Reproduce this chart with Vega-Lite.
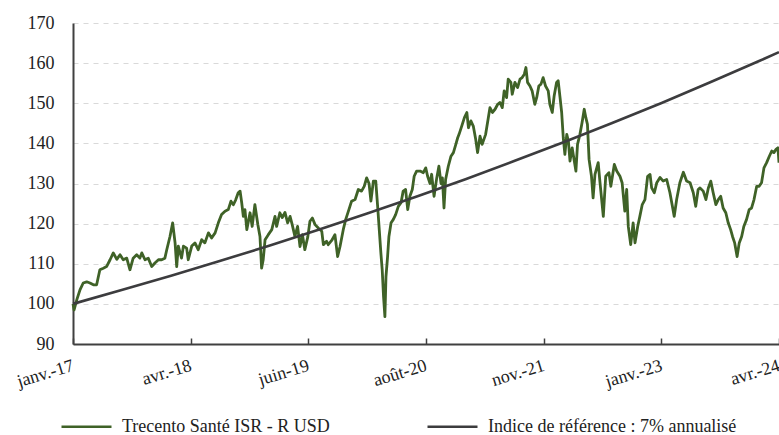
{
  "$schema": "https://vega.github.io/schema/vega-lite/v6.json",
  "width": 706,
  "height": 321,
  "autosize": {"type": "none"},
  "padding": {"left": 73, "top": 23, "right": 0, "bottom": 91},
  "background": "white",
  "datasets": {
    "fund": [
      {"date": "2017-01-20", "value": 100},
      {"date": "2017-01-24", "value": 98.5},
      {"date": "2017-02-03", "value": 101},
      {"date": "2017-02-15", "value": 103.5},
      {"date": "2017-02-27", "value": 105.2},
      {"date": "2017-03-12", "value": 105.5},
      {"date": "2017-03-24", "value": 105.2},
      {"date": "2017-04-06", "value": 104.75},
      {"date": "2017-04-18", "value": 104.75},
      {"date": "2017-04-30", "value": 108.5},
      {"date": "2017-05-13", "value": 108.9},
      {"date": "2017-05-25", "value": 109.3},
      {"date": "2017-06-07", "value": 111},
      {"date": "2017-06-19", "value": 112.7},
      {"date": "2017-07-02", "value": 111.1},
      {"date": "2017-07-14", "value": 112.25},
      {"date": "2017-07-26", "value": 111},
      {"date": "2017-08-08", "value": 111.4},
      {"date": "2017-08-20", "value": 108.5},
      {"date": "2017-09-01", "value": 111.4},
      {"date": "2017-09-14", "value": 112.25},
      {"date": "2017-09-26", "value": 111.4},
      {"date": "2017-10-03", "value": 112.7},
      {"date": "2017-10-15", "value": 111},
      {"date": "2017-10-27", "value": 111.4},
      {"date": "2017-11-09", "value": 109.3},
      {"date": "2017-11-21", "value": 110.2},
      {"date": "2017-12-04", "value": 111},
      {"date": "2017-12-16", "value": 111},
      {"date": "2017-12-28", "value": 111.4},
      {"date": "2018-01-04", "value": 113.5},
      {"date": "2018-01-16", "value": 116.8},
      {"date": "2018-01-26", "value": 120.2},
      {"date": "2018-02-04", "value": 115.2},
      {"date": "2018-02-10", "value": 109.3},
      {"date": "2018-02-16", "value": 114.4},
      {"date": "2018-02-28", "value": 111.4},
      {"date": "2018-03-07", "value": 114.4},
      {"date": "2018-03-19", "value": 113.9},
      {"date": "2018-03-25", "value": 111},
      {"date": "2018-04-07", "value": 114.4},
      {"date": "2018-04-19", "value": 115.2},
      {"date": "2018-05-01", "value": 113.5},
      {"date": "2018-05-14", "value": 116},
      {"date": "2018-05-26", "value": 115.2},
      {"date": "2018-06-08", "value": 117.7},
      {"date": "2018-06-20", "value": 116.4},
      {"date": "2018-07-03", "value": 117.7},
      {"date": "2018-07-15", "value": 120.2},
      {"date": "2018-07-27", "value": 122.25},
      {"date": "2018-08-09", "value": 123.1},
      {"date": "2018-08-21", "value": 123.5},
      {"date": "2018-08-31", "value": 125.6},
      {"date": "2018-09-09", "value": 124.7},
      {"date": "2018-09-18", "value": 126},
      {"date": "2018-09-27", "value": 127.7},
      {"date": "2018-10-04", "value": 128.1},
      {"date": "2018-10-10", "value": 125.2},
      {"date": "2018-10-16", "value": 121.8},
      {"date": "2018-10-22", "value": 123.5},
      {"date": "2018-10-29", "value": 118.5},
      {"date": "2018-11-10", "value": 122.7},
      {"date": "2018-11-18", "value": 119.3},
      {"date": "2018-11-28", "value": 124.75},
      {"date": "2018-12-09", "value": 119.8},
      {"date": "2018-12-17", "value": 116.8},
      {"date": "2018-12-23", "value": 108.9},
      {"date": "2018-12-29", "value": 111},
      {"date": "2019-01-05", "value": 116},
      {"date": "2019-01-17", "value": 117.25},
      {"date": "2019-01-30", "value": 118.5},
      {"date": "2019-02-11", "value": 121.8},
      {"date": "2019-02-17", "value": 119.3},
      {"date": "2019-03-01", "value": 122.7},
      {"date": "2019-03-10", "value": 121.5},
      {"date": "2019-03-20", "value": 122.8},
      {"date": "2019-03-30", "value": 120.2},
      {"date": "2019-04-08", "value": 121.8},
      {"date": "2019-04-16", "value": 119.75},
      {"date": "2019-04-26", "value": 116.8},
      {"date": "2019-05-06", "value": 119.3},
      {"date": "2019-05-15", "value": 114.3},
      {"date": "2019-05-24", "value": 117.25},
      {"date": "2019-06-02", "value": 113.5},
      {"date": "2019-06-13", "value": 116.7},
      {"date": "2019-06-21", "value": 120.6},
      {"date": "2019-06-30", "value": 121.4},
      {"date": "2019-07-10", "value": 119.75},
      {"date": "2019-07-22", "value": 118.9},
      {"date": "2019-08-04", "value": 118.1},
      {"date": "2019-08-10", "value": 114.75},
      {"date": "2019-08-22", "value": 115.6},
      {"date": "2019-08-28", "value": 114.75},
      {"date": "2019-09-10", "value": 115.8},
      {"date": "2019-09-22", "value": 117.25},
      {"date": "2019-10-02", "value": 111.8},
      {"date": "2019-10-11", "value": 114.3},
      {"date": "2019-10-23", "value": 118.5},
      {"date": "2019-11-01", "value": 121},
      {"date": "2019-11-13", "value": 123.5},
      {"date": "2019-11-23", "value": 125.6},
      {"date": "2019-12-06", "value": 126},
      {"date": "2019-12-18", "value": 128.5},
      {"date": "2019-12-30", "value": 128.1},
      {"date": "2020-01-09", "value": 129.3},
      {"date": "2020-01-18", "value": 131.4},
      {"date": "2020-01-27", "value": 130},
      {"date": "2020-02-03", "value": 125.6},
      {"date": "2020-02-12", "value": 130.6},
      {"date": "2020-02-21", "value": 130.6},
      {"date": "2020-02-28", "value": 124.3},
      {"date": "2020-03-05", "value": 118.5},
      {"date": "2020-03-11", "value": 112.7},
      {"date": "2020-03-16", "value": 108.5},
      {"date": "2020-03-21", "value": 101.8},
      {"date": "2020-03-26", "value": 96.8},
      {"date": "2020-03-30", "value": 106.8},
      {"date": "2020-04-05", "value": 111.8},
      {"date": "2020-04-10", "value": 116.8},
      {"date": "2020-04-18", "value": 120.2},
      {"date": "2020-04-26", "value": 121},
      {"date": "2020-05-05", "value": 122.25},
      {"date": "2020-05-15", "value": 124.3},
      {"date": "2020-05-25", "value": 125.2},
      {"date": "2020-06-02", "value": 128.1},
      {"date": "2020-06-11", "value": 128.5},
      {"date": "2020-06-19", "value": 123.5},
      {"date": "2020-06-27", "value": 126.8},
      {"date": "2020-07-06", "value": 128.5},
      {"date": "2020-07-13", "value": 131.8},
      {"date": "2020-07-22", "value": 133.1},
      {"date": "2020-08-04", "value": 133.1},
      {"date": "2020-08-16", "value": 132.7},
      {"date": "2020-08-25", "value": 133.9},
      {"date": "2020-09-01", "value": 131.8},
      {"date": "2020-09-10", "value": 130},
      {"date": "2020-09-16", "value": 132.3},
      {"date": "2020-09-25", "value": 126.8},
      {"date": "2020-10-05", "value": 131.4},
      {"date": "2020-10-13", "value": 134.3},
      {"date": "2020-10-21", "value": 130},
      {"date": "2020-10-26", "value": 131.4},
      {"date": "2020-11-01", "value": 123.9},
      {"date": "2020-11-07", "value": 131},
      {"date": "2020-11-17", "value": 134.3},
      {"date": "2020-11-27", "value": 136.8},
      {"date": "2020-12-06", "value": 137.7},
      {"date": "2020-12-15", "value": 139.75},
      {"date": "2020-12-22", "value": 141.4},
      {"date": "2020-12-27", "value": 142.25},
      {"date": "2021-01-06", "value": 144.3},
      {"date": "2021-01-16", "value": 146.4},
      {"date": "2021-01-25", "value": 147.7},
      {"date": "2021-01-31", "value": 143.9},
      {"date": "2021-02-09", "value": 145.6},
      {"date": "2021-02-18", "value": 144.3},
      {"date": "2021-02-27", "value": 141},
      {"date": "2021-03-06", "value": 137.7},
      {"date": "2021-03-15", "value": 141.8},
      {"date": "2021-03-23", "value": 139.75},
      {"date": "2021-04-05", "value": 142.25},
      {"date": "2021-04-15", "value": 146.4},
      {"date": "2021-04-21", "value": 148.9},
      {"date": "2021-04-30", "value": 147.7},
      {"date": "2021-05-10", "value": 148.5},
      {"date": "2021-05-20", "value": 149.75},
      {"date": "2021-05-28", "value": 150.2},
      {"date": "2021-06-06", "value": 148.9},
      {"date": "2021-06-13", "value": 153.1},
      {"date": "2021-06-22", "value": 151.4},
      {"date": "2021-06-28", "value": 156},
      {"date": "2021-07-08", "value": 155.2},
      {"date": "2021-07-13", "value": 152.25},
      {"date": "2021-07-23", "value": 155.2},
      {"date": "2021-08-02", "value": 153.9},
      {"date": "2021-08-11", "value": 156},
      {"date": "2021-08-19", "value": 156.4},
      {"date": "2021-08-27", "value": 157.25},
      {"date": "2021-09-02", "value": 158.9},
      {"date": "2021-09-08", "value": 155.2},
      {"date": "2021-09-17", "value": 154.3},
      {"date": "2021-09-25", "value": 153.1},
      {"date": "2021-10-05", "value": 149.75},
      {"date": "2021-10-12", "value": 151.4},
      {"date": "2021-10-20", "value": 154.3},
      {"date": "2021-10-28", "value": 154.75},
      {"date": "2021-11-05", "value": 156.4},
      {"date": "2021-11-14", "value": 154.3},
      {"date": "2021-11-24", "value": 153.1},
      {"date": "2021-11-30", "value": 149.75},
      {"date": "2021-12-09", "value": 147.7},
      {"date": "2021-12-16", "value": 151.8},
      {"date": "2021-12-25", "value": 155.2},
      {"date": "2021-12-31", "value": 155.6},
      {"date": "2022-01-07", "value": 151.4},
      {"date": "2022-01-13", "value": 147.7},
      {"date": "2022-01-19", "value": 141.4},
      {"date": "2022-01-25", "value": 137.25},
      {"date": "2022-02-01", "value": 142.25},
      {"date": "2022-02-07", "value": 140.6},
      {"date": "2022-02-13", "value": 135.6},
      {"date": "2022-02-21", "value": 138.9},
      {"date": "2022-03-01", "value": 135.6},
      {"date": "2022-03-07", "value": 133.1},
      {"date": "2022-03-13", "value": 139.75},
      {"date": "2022-03-22", "value": 142.25},
      {"date": "2022-03-30", "value": 145.2},
      {"date": "2022-04-07", "value": 148.5},
      {"date": "2022-04-13", "value": 146.4},
      {"date": "2022-04-19", "value": 144.75},
      {"date": "2022-04-25", "value": 136},
      {"date": "2022-05-04", "value": 131.8},
      {"date": "2022-05-10", "value": 126.4},
      {"date": "2022-05-17", "value": 132.25},
      {"date": "2022-05-29", "value": 135.2},
      {"date": "2022-06-04", "value": 130.7},
      {"date": "2022-06-17", "value": 121.8},
      {"date": "2022-06-26", "value": 131.8},
      {"date": "2022-07-08", "value": 132.7},
      {"date": "2022-07-15", "value": 129.3},
      {"date": "2022-07-28", "value": 134.75},
      {"date": "2022-08-06", "value": 133.1},
      {"date": "2022-08-18", "value": 131.8},
      {"date": "2022-08-26", "value": 130.2},
      {"date": "2022-09-05", "value": 123.1},
      {"date": "2022-09-12", "value": 128.5},
      {"date": "2022-09-18", "value": 119.3},
      {"date": "2022-09-27", "value": 114.75},
      {"date": "2022-10-06", "value": 120.2},
      {"date": "2022-10-13", "value": 115.2},
      {"date": "2022-10-23", "value": 119.3},
      {"date": "2022-10-31", "value": 121.8},
      {"date": "2022-11-09", "value": 124.75},
      {"date": "2022-11-19", "value": 126},
      {"date": "2022-11-29", "value": 131.8},
      {"date": "2022-12-08", "value": 132.25},
      {"date": "2022-12-14", "value": 128.9},
      {"date": "2022-12-24", "value": 127.7},
      {"date": "2023-01-02", "value": 130.2},
      {"date": "2023-01-14", "value": 131.5},
      {"date": "2023-01-26", "value": 130.6},
      {"date": "2023-02-08", "value": 131},
      {"date": "2023-02-20", "value": 127.7},
      {"date": "2023-02-28", "value": 124.75},
      {"date": "2023-03-08", "value": 121.8},
      {"date": "2023-03-17", "value": 126},
      {"date": "2023-03-29", "value": 130.2},
      {"date": "2023-04-11", "value": 132.8},
      {"date": "2023-04-23", "value": 130.6},
      {"date": "2023-05-06", "value": 130.2},
      {"date": "2023-05-18", "value": 127.7},
      {"date": "2023-05-27", "value": 124.3},
      {"date": "2023-06-05", "value": 128.5},
      {"date": "2023-06-12", "value": 128.9},
      {"date": "2023-06-24", "value": 128.1},
      {"date": "2023-07-04", "value": 126},
      {"date": "2023-07-13", "value": 128.9},
      {"date": "2023-07-22", "value": 130.6},
      {"date": "2023-07-31", "value": 127.7},
      {"date": "2023-08-10", "value": 124.75},
      {"date": "2023-08-19", "value": 126},
      {"date": "2023-08-28", "value": 126.8},
      {"date": "2023-09-06", "value": 123.9},
      {"date": "2023-09-16", "value": 122.7},
      {"date": "2023-09-25", "value": 120.2},
      {"date": "2023-10-04", "value": 118.5},
      {"date": "2023-10-11", "value": 116.8},
      {"date": "2023-10-19", "value": 115.2},
      {"date": "2023-10-28", "value": 111.8},
      {"date": "2023-11-05", "value": 115.2},
      {"date": "2023-11-14", "value": 116.8},
      {"date": "2023-11-22", "value": 119.3},
      {"date": "2023-12-02", "value": 121},
      {"date": "2023-12-12", "value": 123.5},
      {"date": "2023-12-21", "value": 123.9},
      {"date": "2023-12-30", "value": 126},
      {"date": "2024-01-09", "value": 129.3},
      {"date": "2024-01-18", "value": 129.3},
      {"date": "2024-01-27", "value": 130.2},
      {"date": "2024-02-05", "value": 133.9},
      {"date": "2024-02-15", "value": 135.2},
      {"date": "2024-02-25", "value": 136.8},
      {"date": "2024-03-05", "value": 138.1},
      {"date": "2024-03-13", "value": 137.7},
      {"date": "2024-03-21", "value": 138.5},
      {"date": "2024-03-28", "value": 138.9},
      {"date": "2024-04-01", "value": 135.2}
    ],
    "ref": [
      {"date": "2017-01-20", "value": 100},
      {"date": "2017-07-20", "value": 103.44},
      {"date": "2018-01-20", "value": 107},
      {"date": "2018-07-20", "value": 110.68},
      {"date": "2019-01-20", "value": 114.49},
      {"date": "2019-07-20", "value": 118.43},
      {"date": "2020-01-20", "value": 122.5},
      {"date": "2020-07-20", "value": 126.72},
      {"date": "2021-01-20", "value": 131.08},
      {"date": "2021-07-20", "value": 135.59},
      {"date": "2022-01-20", "value": 140.26},
      {"date": "2022-07-20", "value": 145.08},
      {"date": "2023-01-20", "value": 150.07},
      {"date": "2023-07-20", "value": 155.24},
      {"date": "2024-01-20", "value": 160.58},
      {"date": "2024-04-01", "value": 162.73}
    ]
  },
  "encoding": {
    "x": {
      "field": "date",
      "type": "temporal",
      "title": null,
      "scale": {
        "type": "utc",
        "domain": [
          {"year": 2017, "month": 1, "date": 20, "utc": true},
          {"year": 2024, "month": 4, "date": 1, "utc": true}
        ]
      },
      "axis": {
        "values": [
          {"year": 2017, "month": 1, "date": 20, "utc": true},
          {"year": 2018, "month": 4, "date": 3, "utc": true},
          {"year": 2019, "month": 6, "date": 15, "utc": true},
          {"year": 2020, "month": 8, "date": 26, "utc": true},
          {"year": 2021, "month": 11, "date": 7, "utc": true},
          {"year": 2023, "month": 1, "date": 19, "utc": true},
          {"year": 2024, "month": 4, "date": 1, "utc": true}
        ],
        "labelExpr": "['janv.','févr.','mars','avr.','mai','juin','juil.','août','sept.','oct.','nov.','déc.'][utcmonth(datum.value)] + '-' + utcFormat(datum.value, '%y')",
        "grid": false,
        "domainColor": "#404040",
        "domainWidth": 2,
        "tickColor": "#404040",
        "tickWidth": 1.5,
        "tickSize": -6,
        "labelAngle": -17,
        "labelAlign": "right",
        "labelBaseline": "middle",
        "labelPadding": 27,
        "labelFlush": false,
        "labelOverlap": false,
        "labelBound": false
      }
    },
    "y": {
      "field": "value",
      "type": "quantitative",
      "title": null,
      "scale": {"domain": [90, 170], "nice": false, "zero": false},
      "axis": {
        "values": [90, 100, 110, 120, 130, 140, 150, 160, 170],
        "ticks": false,
        "domainColor": "#404040",
        "domainWidth": 2,
        "grid": true,
        "gridColor": "#d9d9d9",
        "gridWidth": 1.2,
        "gridDash": [5, 5],
        "labelPadding": 19,
        "labelOverlap": false
      }
    }
  },
  "layer": [
    {
      "data": {"name": "fund"},
      "mark": {"type": "line", "strokeWidth": 2.8, "strokeJoin": "round"},
      "encoding": {
        "color": {
          "datum": "Trecento Santé ISR - R USD",
          "type": "nominal",
          "scale": {
            "domain": ["Trecento Santé ISR - R USD", "Indice de référence : 7% annualisé"],
            "range": ["#3f6227", "#3c3c3e"]
          },
          "legend": {
            "title": null,
            "orient": "none",
            "legendX": -13,
            "legendY": 377,
            "direction": "horizontal",
            "symbolType": "stroke",
            "symbolSize": 2500,
            "symbolStrokeWidth": 2.5,
            "labelOffset": 9,
            "columnPadding": 92,
            "labelFontSize": 18,
            "labelFont": "Liberation Serif",
            "labelColor": "#222222",
            "labelLimit": 400
          }
        }
      }
    },
    {
      "data": {"name": "ref"},
      "mark": {"type": "line", "strokeWidth": 2.6},
      "encoding": {
        "color": {"datum": "Indice de référence : 7% annualisé", "type": "nominal"}
      }
    }
  ],
  "config": {
    "view": {"stroke": null},
    "font": "Liberation Serif",
    "axis": {
      "labelFont": "Liberation Serif",
      "labelFontSize": 18,
      "labelColor": "#222222"
    }
  }
}
